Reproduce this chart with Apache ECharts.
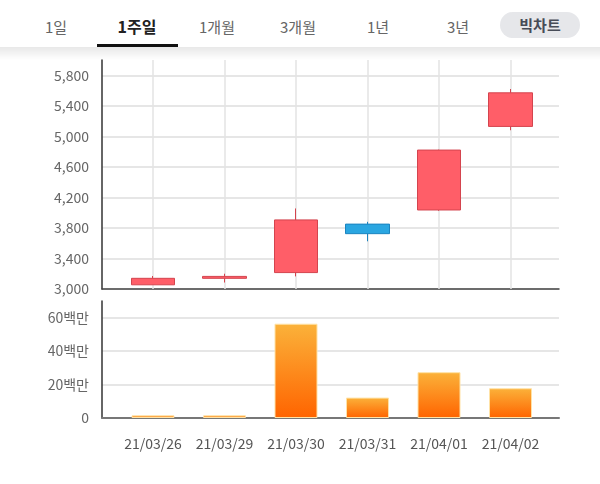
<!DOCTYPE html>
<html>
<head>
<meta charset="utf-8">
<script src="https://cdn.jsdelivr.net/npm/echarts@6/dist/echarts.min.js"></script>
<style>
  html, body { margin: 0; padding: 0; background: #fff; }
  #wrap { position: relative; width: 600px; height: 484px; overflow: hidden; font-family: "Noto Sans CJK KR", "Noto Sans", sans-serif; }
  #chart { position: absolute; left: 0; top: 0; width: 600px; height: 484px; }
  #header { position: absolute; left: 0; top: 0; width: 600px; height: 47px; background: #fff; z-index: 2; }
  #shadow { position: absolute; left: 0; top: 47px; width: 600px; height: 13px; z-index: 2;
            background: linear-gradient(to bottom, rgba(0,0,0,0.09), rgba(0,0,0,0)); pointer-events: none; }
  .tab { position: absolute; top: 26px; transform: translate(-50%, -50%); font-size: 15px; color: #666; white-space: nowrap; }
  .tab.sel { color: #222; font-weight: bold; font-size: 16px; }
  #underline { position: absolute; left: 97px; top: 44px; width: 81px; height: 3px; background: #111; }
  #pill { position: absolute; left: 500px; top: 12px; width: 80px; height: 26px; border-radius: 13px; background: #e6e7ea;
          color: #474c57; font-weight: bold; font-size: 15px; line-height: 26px; text-align: center; }
</style>
</head>
<body>
<div id="wrap">
  <div id="chart"></div>
  <div id="header">
    <span class="tab" style="left:56px">1일</span>
    <span class="tab sel" style="left:137px">1주일</span>
    <span class="tab" style="left:217px">1개월</span>
    <span class="tab" style="left:298px">3개월</span>
    <span class="tab" style="left:378px">1년</span>
    <span class="tab" style="left:458px">3년</span>
    <div id="underline"></div>
    <div id="pill">빅차트</div>
  </div>
  <div id="shadow"></div>
</div>
<script>
const dates = ['21/03/26', '21/03/29', '21/03/30', '21/03/31', '21/04/01', '21/04/02'];
const openVals  = [3055, 3140, 3215, 3850, 4035, 5130];
const closeVals = [3140, 3165, 3905, 3725, 4820, 5570];
const lowVals   = [3055, 3085, 3165, 3625, 4025, 5080];
const highVals  = [3170, 3200, 4055, 3880, 4825, 5620];
const volumes   = [1600000, 1600000, 56400000, 12200000, 27400000, 17800000];

const candleData = dates.map((d, i) => [openVals[i], closeVals[i], lowVals[i], highVals[i]]);

const chart = echarts.init(document.getElementById('chart'), null, { renderer: 'canvas' });

const labelFont = { fontFamily: '"Noto Sans CJK KR", "Noto Sans", sans-serif', fontSize: 14, color: '#666' };

chart.setOption({
  animation: false,
  backgroundColor: '#fff',
  grid: [
    { left: 102, right: 41, top: 60, bottom: 195 },       // 0 wide price
    { left: 117.25, right: 53.75, top: 60, bottom: 195 }, // 1 narrow price
    { left: 102, right: 41, top: 301, bottom: 66 },       // 2 wide volume
    { left: 117.25, right: 53.75, top: 301, bottom: 66 }  // 3 narrow volume
  ],
  xAxis: [
    { gridIndex: 0, type: 'category', data: dates, boundaryGap: true,
      axisLine: { show: true, lineStyle: { color: '#444', width: 1.5 } },
      axisTick: { show: false }, axisLabel: { show: false }, splitLine: { show: false } },
    { gridIndex: 1, type: 'category', data: dates, boundaryGap: true,
      axisLine: { show: false },
      axisTick: { show: true, alignWithLabel: true, inside: true, length: 229, lineStyle: { color: '#e4e4e4', width: 1.5 } },
      axisLabel: { show: false }, splitLine: { show: false } },
    { gridIndex: 2, type: 'category', data: dates, boundaryGap: true,
      axisLine: { show: true, lineStyle: { color: '#777', width: 2 } },
      axisTick: { show: false }, axisLabel: { show: false }, splitLine: { show: false } },
    { gridIndex: 3, type: 'category', data: dates, boundaryGap: true,
      axisLine: { show: false }, axisTick: { show: false }, splitLine: { show: false },
      axisLabel: { show: true, interval: 0, hideOverlap: false, margin: 19, color: '#555', fontFamily: labelFont.fontFamily, fontSize: 14 } }
  ],
  yAxis: [
    { gridIndex: 0, type: 'value', min: 3000, max: 6000, interval: 400,
      axisLine: { show: true, lineStyle: { color: '#333', width: 1.5 } },
      axisTick: { show: false },
      axisLabel: Object.assign({ margin: 13, showMaxLabel: false, formatter: v => v.toLocaleString('en-US') }, labelFont),
      splitLine: { show: true, showMaxLine: false, lineStyle: { color: '#dedede', width: 1.5 } } },
    { gridIndex: 1, type: 'value', min: 3000, max: 6000, show: false, splitLine: { show: false } },
    { gridIndex: 2, type: 'value', min: 0, max: 70000000, interval: 20000000,
      axisLine: { show: true, lineStyle: { color: '#333', width: 1.5 } },
      axisTick: { show: false },
      axisLabel: Object.assign({ margin: 13, showMaxLabel: false, formatter: v => v === 0 ? '0' : (v / 1000000) + '백만' }, labelFont),
      splitLine: { show: true, showMaxLine: false, lineStyle: { color: '#dedede', width: 1.5 } } },
    { gridIndex: 3, type: 'value', min: 0, max: 70000000, show: false, splitLine: { show: false } }
  ],
  series: [
    { type: 'candlestick', xAxisIndex: 1, yAxisIndex: 1, data: candleData, barWidth: 44,
      itemStyle: { color: '#FF5E68', borderColor: '#D4444E', color0: '#2AA6E1', borderColor0: '#1C84BF', borderWidth: 1 } },
    { type: 'bar', xAxisIndex: 3, yAxisIndex: 3, data: volumes, barWidth: 43,
      itemStyle: {
        color: new echarts.graphic.LinearGradient(0, 0, 0, 1, [
          { offset: 0, color: '#FBB23A' },
          { offset: 1, color: '#FF6400' }
        ]),
        borderColor: '#FFE2A6', borderWidth: 1
      } }
  ]
});
</script>
</body>
</html>
